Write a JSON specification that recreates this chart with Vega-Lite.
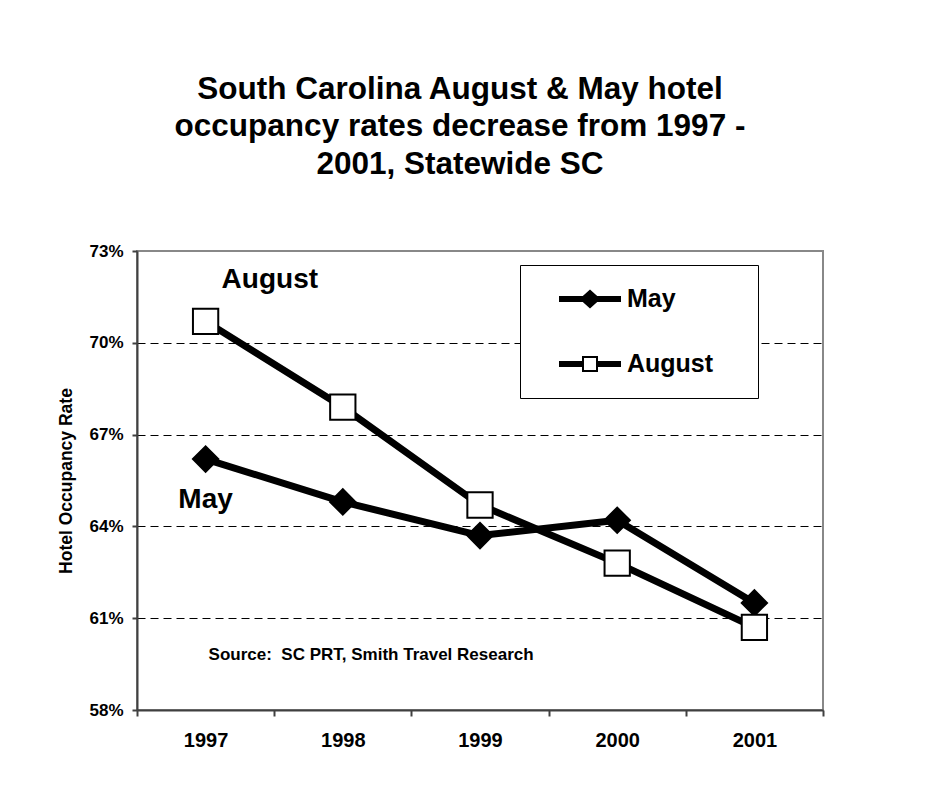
{
  "$schema": "https://vega.github.io/schema/vega-lite/v6.json",
  "width": 686,
  "height": 459,
  "autosize": {"type": "none"},
  "padding": {"left": 137, "top": 251, "right": 103, "bottom": 86},
  "background": "white",
  "title": {
    "text": ["South Carolina August & May hotel", "occupancy rates decrease from 1997 -", "2001, Statewide SC"],
    "anchor": "middle",
    "dx": -20,
    "offset": 62,
    "font": "Liberation Sans",
    "fontSize": 31.5,
    "fontWeight": "bold",
    "color": "black",
    "lineHeight": 37.5
  },
  "config": {
    "font": "Liberation Sans",
    "view": {"stroke": "#888888", "strokeWidth": 2}
  },
  "data": {
    "values": [
      {"year": "1997", "series": "May", "rate": 0.662},
      {"year": "1998", "series": "May", "rate": 0.648},
      {"year": "1999", "series": "May", "rate": 0.637},
      {"year": "2000", "series": "May", "rate": 0.642},
      {"year": "2001", "series": "May", "rate": 0.615},
      {"year": "1997", "series": "August", "rate": 0.707},
      {"year": "1998", "series": "August", "rate": 0.679},
      {"year": "1999", "series": "August", "rate": 0.647},
      {"year": "2000", "series": "August", "rate": 0.628},
      {"year": "2001", "series": "August", "rate": 0.607}
    ]
  },
  "encoding": {
    "x": {
      "field": "year",
      "type": "ordinal",
      "scale": {"paddingInner": 0, "paddingOuter": 0},
      "axis": {
        "title": null,
        "labelAngle": 0,
        "tickBand": "extent",
        "domainColor": "#404040",
        "domainWidth": 2,
        "tickColor": "#404040",
        "tickWidth": 2,
        "tickSize": 6,
        "labelFont": "Liberation Sans",
        "labelFontSize": 20,
        "labelFontWeight": "bold",
        "labelColor": "black",
        "labelPadding": 14,
        "grid": false
      }
    },
    "y": {
      "field": "rate",
      "type": "quantitative",
      "scale": {"domain": [0.58, 0.73], "nice": false, "zero": false},
      "axis": {
        "title": "Hotel Occupancy Rate",
        "titleFont": "Liberation Sans",
        "titleFontSize": 17.5,
        "titleFontWeight": "bold",
        "titleColor": "black",
        "titlePadding": 13,
        "values": [0.58, 0.61, 0.64, 0.67, 0.7, 0.73],
        "format": ".0%",
        "labelFont": "Liberation Sans",
        "labelFontSize": 17,
        "labelFontWeight": "bold",
        "labelColor": "black",
        "labelPadding": 9,
        "domainColor": "#404040",
        "domainWidth": 2,
        "tickColor": "#404040",
        "tickWidth": 2,
        "tickSize": 5,
        "grid": true,
        "gridColor": "black",
        "gridWidth": 1,
        "gridDash": [8, 5],
        "gridOpacity": {"condition": {"test": "datum.value > 0.59 && datum.value < 0.72", "value": 1}, "value": 0}
      }
    }
  },
  "resolve": {"scale": {"shape": "independent"}},
  "layer": [
    {
      "mark": {"type": "line", "color": "black", "strokeWidth": 7, "strokeJoin": "round"},
      "encoding": {"detail": {"field": "series"}}
    },
    {
      "mark": {"type": "point", "filled": true, "stroke": "black", "strokeWidth": 2, "size": 640, "opacity": 1},
      "encoding": {
        "shape": {
          "field": "series",
          "scale": {"domain": ["May", "August"], "range": ["diamond", "square"]},
          "legend": null
        },
        "fill": {
          "field": "series",
          "scale": {"domain": ["May", "August"], "range": ["black", "white"]},
          "legend": null
        }
      }
    },
    {
      "data": {"values": [{"series": "May"}, {"series": "August"}]},
      "transform": [{"filter": "false"}],
      "mark": {"type": "point", "filled": true, "color": "black", "opacity": 1},
      "encoding": {
        "shape": {
          "field": "series",
          "scale": {
            "domain": ["May", "August"],
            "range": [
              "M0,-1Z M0,1Z M-1,-0.097H1V0.097H-1Z M-0.34,0L0,-0.31L0.34,0L0,0.31Z",
              "M0,-1Z M0,1Z M-1,-0.097H-0.258V0.097H-1Z M0.258,-0.097H1V0.097H0.258Z M-0.258,-0.258H0.258V0.258H-0.258Z M-0.194,-0.194V0.194H0.194V-0.194Z"
            ]
          },
          "legend": {
            "title": null,
            "orient": "none",
            "legendX": 383,
            "legendY": 14,
            "symbolSize": 3844,
            "symbolStrokeWidth": 0,
            "symbolFillColor": "black",
            "symbolOffset": 36,
            "labelOffset": 6,
            "labelExpr": "datum.label + '\u2800\u2009\u2800'",
            "labelFont": "Liberation Sans",
            "labelFontSize": 25,
            "labelFontWeight": "bold",
            "labelColor": "black",
            "rowPadding": 3,
            "padding": 3,
            "strokeColor": "black",
            "fillColor": "white",
            "encode": {
              "legend": {
                "update": {
                  "stroke": {"value": "black"},
                  "strokeWidth": {"value": 1.5}
                }
              }
            }
          }
        }
      }
    },
    {
      "data": {"values": [{"year": "1997", "rate": 0.7178, "label": "August"}]},
      "mark": {"type": "text", "align": "left", "baseline": "alphabetic", "dx": 16, "font": "Liberation Sans", "fontSize": 28, "fontWeight": "bold", "color": "black"},
      "encoding": {"text": {"field": "label"}}
    },
    {
      "data": {"values": [{"year": "1997", "rate": 0.6459, "label": "May"}]},
      "mark": {"type": "text", "align": "center", "baseline": "alphabetic", "font": "Liberation Sans", "fontSize": 28, "fontWeight": "bold", "color": "black"},
      "encoding": {"text": {"field": "label"}}
    },
    {
      "data": {"values": [{"year": "1997", "rate": 0.5963, "label": "Source:\u00a0 SC PRT, Smith Travel Research"}]},
      "mark": {"type": "text", "align": "left", "baseline": "alphabetic", "dx": 3, "font": "Liberation Sans", "fontSize": 17, "fontWeight": "bold", "color": "black"},
      "encoding": {"text": {"field": "label"}}
    }
  ]
}
